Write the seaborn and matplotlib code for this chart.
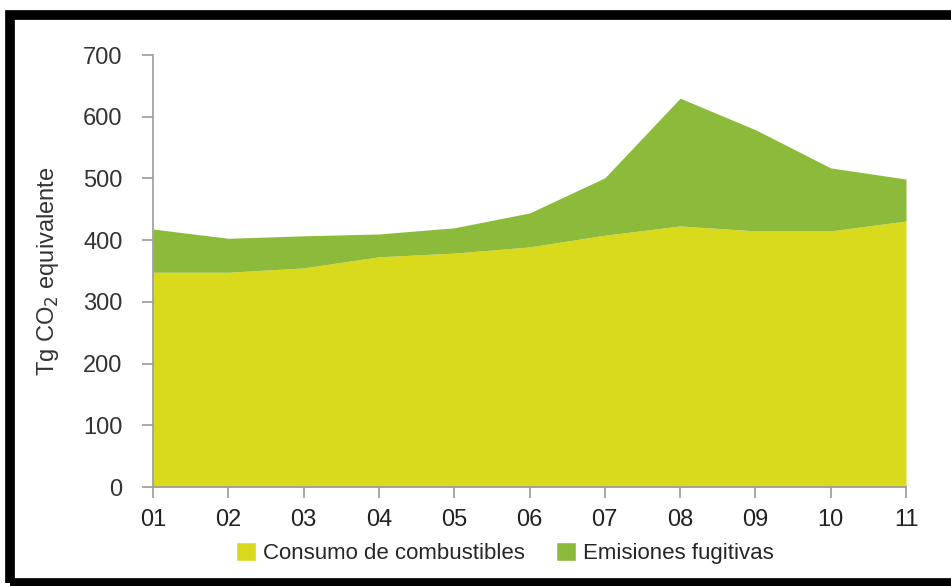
import numpy as np
import pandas as pd
import seaborn as sns
import matplotlib.pyplot as plt
from matplotlib.patches import Patch, Rectangle

# datos (Tg CO2 equivalente)
anios = ["01", "02", "03", "04", "05", "06", "07", "08", "09", "10", "11"]
consumo = [348, 348, 355, 373, 379, 389, 408, 423, 415, 415, 431]
fugitivas = [70, 55, 52, 37, 41, 55, 93, 207, 164, 102, 68]
y_ticks = [0, 100, 200, 300, 400, 500, 600, 700]

col_consumo = "#d9da1c"
col_fugitivas = "#8cba3a"
gris = "#9a9a9a"

df = pd.DataFrame({"anio": anios, "consumo": consumo, "fugitivas": fugitivas})

sns.set_theme(style="ticks")
plt.rcParams["font.family"] = ["Liberation Sans", "DejaVu Sans"]

fig = plt.figure(figsize=(9.51, 5.86), dpi=100)
ax = fig.add_axes([153 / 951, 1 - 487 / 586, (906 - 153) / 951, (487 - 55) / 586])

x = np.arange(len(df))
ax.stackplot(x, df["consumo"], df["fugitivas"],
             colors=[col_consumo, col_fugitivas], linewidth=0)

ax.set_xlim(0, len(df) - 1)
ax.set_ylim(0, 700)
ax.set_xticks(x)
ax.set_xticklabels(df["anio"], fontsize=17)
ax.set_yticks(y_ticks)
ax.set_yticklabels([str(v) for v in y_ticks], fontsize=17)

sns.despine(ax=ax)
for s in ["left", "bottom"]:
    ax.spines[s].set_color(gris)
    ax.spines[s].set_linewidth(1.2)
ax.tick_params(axis="both", colors=gris, length=8, width=1.2, direction="out")
ax.tick_params(axis="x", labelcolor="#222222", pad=8)
ax.tick_params(axis="y", labelcolor="#333333", pad=14)

ax.set_ylabel(r"Tg CO$_2$ equivalente", fontsize=17, color="#333333", labelpad=16)

handles = [Patch(facecolor=col_consumo, label="Consumo de combustibles"),
           Patch(facecolor=col_fugitivas, label="Emisiones fugitivas")]
fig.legend(handles=handles, loc="center", bbox_to_anchor=(505 / 951, 1 - 553 / 586),
           ncol=2, frameon=False, fontsize=16, handlelength=0.9, handleheight=0.9,
           handletextpad=0.3, columnspacing=1.4)

# marco negro alrededor de la figura
fig.patches.append(Rectangle((10 / 951, 1 - 583 / 586), 1.2, (583 - 15) / 586,
                             transform=fig.transFigure, fill=False,
                             edgecolor="black", linewidth=7))

fig.savefig("out.png", dpi=100)
